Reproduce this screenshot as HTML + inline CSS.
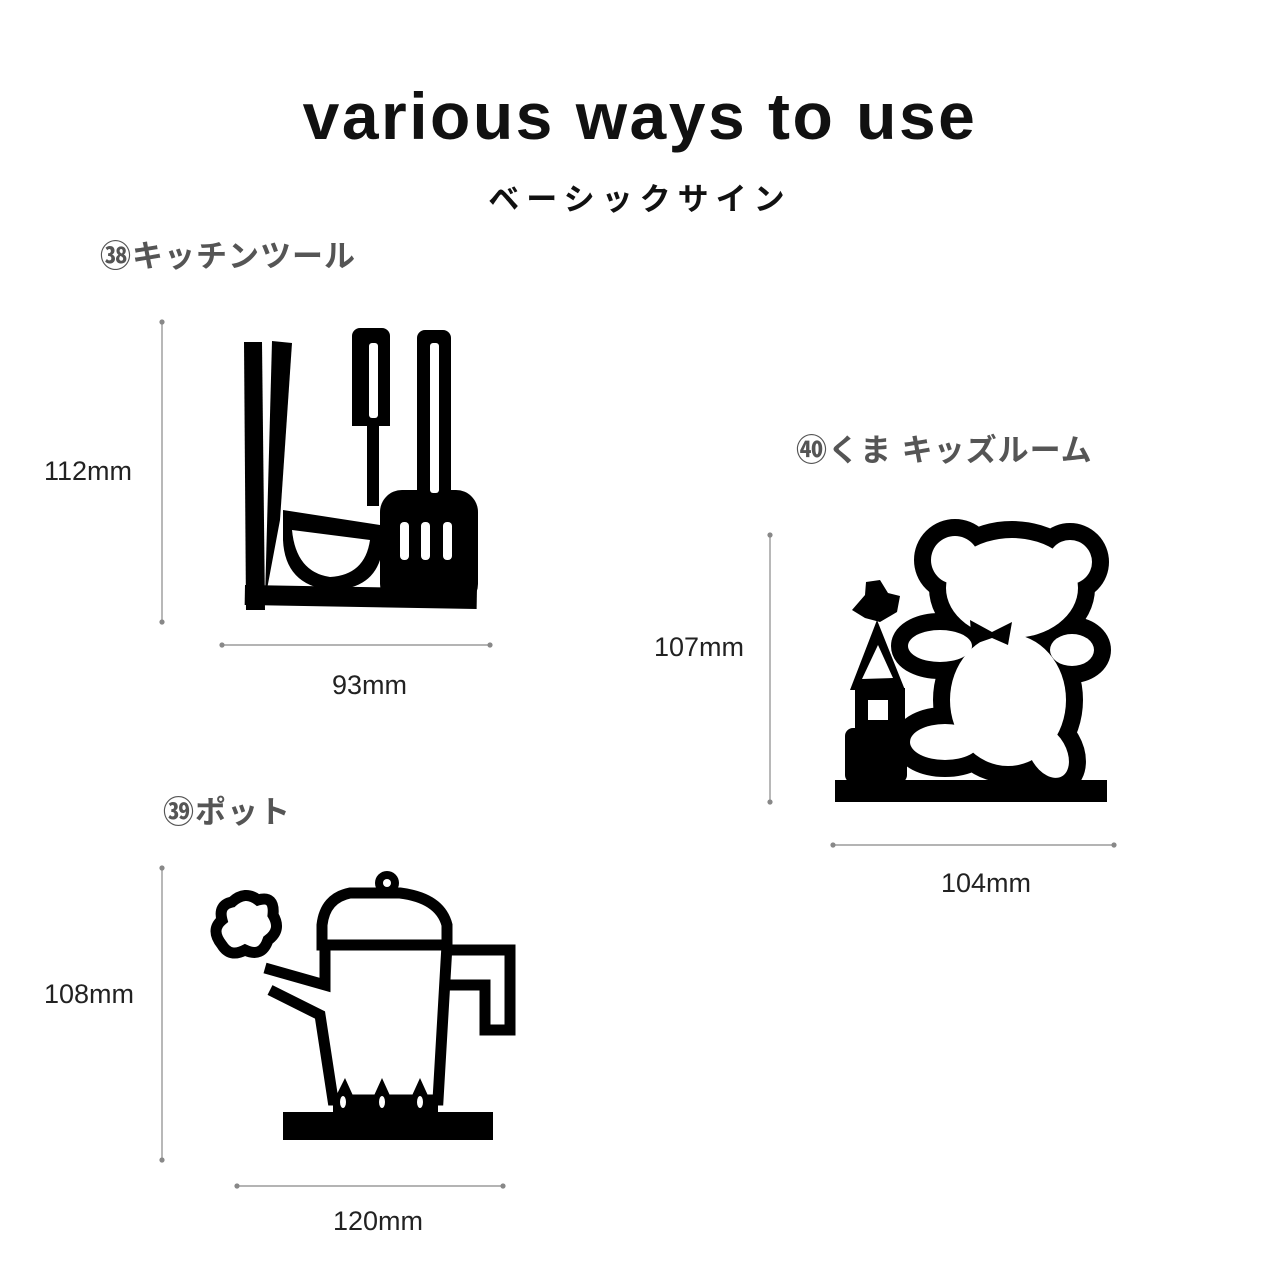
<!DOCTYPE html>
<html><head><meta charset="utf-8"><style>
body{margin:0;width:1280px;height:1280px;background:#fff;overflow:hidden;position:relative;font-family:"Liberation Sans","Noto Sans CJK JP",sans-serif}
.t{position:absolute;white-space:nowrap}
.lab{color:#555;font-weight:bold;font-size:31px;letter-spacing:1px}
.dim{color:#222;font-size:27px}
</style></head><body>
<div class="t" style="left:0;width:1280px;text-align:center;top:78px;font-size:66px;font-weight:bold;letter-spacing:2.5px;color:#111">various ways to use</div>
<div class="t" style="left:0;width:1280px;text-align:center;top:174px;font-size:31px;font-weight:bold;letter-spacing:7px;color:#111">ベーシックサイン</div>
<div class="t lab" style="left:100px;top:231px">㊳キッチンツール</div>
<div class="t lab" style="left:796px;top:425px">㊵くま キッズルーム</div>
<div class="t lab" style="left:163px;top:787px">㊴ポット</div>
<div class="t dim" style="left:44px;top:456px">112mm</div>
<div class="t dim" style="left:332px;top:670px">93mm</div>
<div class="t dim" style="left:654px;top:632px">107mm</div>
<div class="t dim" style="left:941px;top:868px">104mm</div>
<div class="t dim" style="left:44px;top:979px">108mm</div>
<div class="t dim" style="left:333px;top:1206px">120mm</div>
<svg width="1280" height="1280" style="position:absolute;left:0;top:0">
<g stroke="#888" stroke-width="1.2" fill="#888">
<line x1="162" y1="322" x2="162" y2="622"/><circle cx="162" cy="322" r="2"/><circle cx="162" cy="622" r="2"/>
<line x1="222" y1="645" x2="490" y2="645"/><circle cx="222" cy="645" r="2"/><circle cx="490" cy="645" r="2"/>
<line x1="770" y1="535" x2="770" y2="802"/><circle cx="770" cy="535" r="2"/><circle cx="770" cy="802" r="2"/>
<line x1="833" y1="845" x2="1114" y2="845"/><circle cx="833" cy="845" r="2"/><circle cx="1114" cy="845" r="2"/>
<line x1="162" y1="868" x2="162" y2="1160"/><circle cx="162" cy="868" r="2"/><circle cx="162" cy="1160" r="2"/>
<line x1="237" y1="1186" x2="503" y2="1186"/><circle cx="237" cy="1186" r="2"/><circle cx="503" cy="1186" r="2"/>
</g>
<!-- kitchen tools -->
<g fill="#000" stroke="none">
<path d="M244,342 L262,342 L265,610 L246,610 Z"/>
<path d="M272,341 L292,343 L280,520 L265,600 Z"/>
<rect x="245" y="585" width="232" height="20" transform="rotate(1 245 585)"/>
<path d="M360,328 h22 a8,8 0 0 1 8,8 v90 h-11 v80 h-12 v-80 h-15 v-90 a8,8 0 0 1 8,-8 Z"/>
<path d="M283,510 L380,525 L380,560 Q370,590 330,590 Q285,585 283,540 Z"/>
<path d="M425,330 h18 a8,8 0 0 1 8,8 v160 h-34 v-160 a8,8 0 0 1 8,-8 Z"/>
<rect x="380" y="490" width="98" height="116" rx="22"/>
</g>
<g fill="#fff">
<rect x="369" y="343" width="9" height="75" rx="3"/>
<rect x="430" y="343" width="9" height="150" rx="3"/>
<path d="M292,530 L370,540 Q365,575 330,577 Q296,572 292,530 Z"/>
<rect x="400" y="522" width="9" height="38" rx="4"/>
<rect x="421" y="522" width="9" height="38" rx="4"/>
<rect x="443" y="522" width="9" height="38" rx="4"/>
</g>
<!-- bear -->
<g stroke="#000" stroke-width="34" fill="#000">
<ellipse cx="1012" cy="588" rx="66" ry="50"/>
<circle cx="955" cy="560" r="24"/><circle cx="1070" cy="562" r="22"/>
<ellipse cx="1008" cy="700" rx="58" ry="66"/>
<ellipse cx="940" cy="646" rx="32" ry="16"/>
<ellipse cx="1072" cy="650" rx="22" ry="16"/>
<ellipse cx="945" cy="742" rx="35" ry="18"/>
<ellipse cx="1048" cy="752" rx="18" ry="28" transform="rotate(-30 1048 752)"/>
</g>
<g fill="#fff">
<ellipse cx="1012" cy="588" rx="66" ry="50"/>
<circle cx="955" cy="560" r="24"/><circle cx="1070" cy="562" r="22"/>
<ellipse cx="1008" cy="700" rx="58" ry="66"/>
<ellipse cx="940" cy="646" rx="32" ry="16"/>
<ellipse cx="1072" cy="650" rx="22" ry="16"/>
<ellipse cx="945" cy="742" rx="35" ry="18"/>
<ellipse cx="1048" cy="752" rx="18" ry="28" transform="rotate(-30 1048 752)"/>
</g>
<g fill="#000">
<path d="M970,620 L992,632 L1012,622 L1008,645 L992,638 L972,645 Z"/>
<rect x="835" y="780" width="272" height="22"/>
<rect x="845" y="728" width="62" height="55" rx="8"/>
<path d="M865,595 L866,582 L880,580 L888,593 L900,596 L897,612 L880,622 L865,618 L852,610 Z"/>
<path d="M877,620 L905,690 L850,690 Z"/>
<rect x="855" y="688" width="50" height="45"/>
</g>
<g fill="#fff"><path d="M878,645 L893,678 L862,679 Z"/><rect x="868" y="700" width="20" height="20"/></g>
<!-- pot -->
<g stroke="#000" stroke-width="11" fill="none" stroke-linejoin="miter">
<path d="M322,925 L322,945 L447,945 L447,925 Q440,898 400,893 L350,893 Q325,898 322,925 Z"/>
<path d="M325,945 L325,985 L265,968 M270,990 L320,1015 L333,1100 L438,1100 L447,945"/>
<path d="M447,950 L510,950 L510,1030 L485,1030 L485,985 L445,985"/>
<path d="M232,902 Q245,890 258,900 Q275,895 273,915 Q282,930 268,940 Q262,958 245,950 Q230,958 222,945 Q210,930 222,920 Q218,905 232,902 Z"/>
</g>
<g fill="#000">
<circle cx="387" cy="883" r="12"/>
<rect x="283" y="1112" width="210" height="28"/>
<path d="M334,1100 L345,1078 L355,1100 Z M372,1100 L382,1078 L392,1100 Z M410,1100 L420,1078 L430,1100 Z"/>
<rect x="333" y="1098" width="105" height="16"/>
</g>
<g fill="#fff"><circle cx="387" cy="883" r="4"/><ellipse cx="343" cy="1102" rx="3" ry="6"/><ellipse cx="382" cy="1102" rx="3" ry="6"/><ellipse cx="420" cy="1102" rx="3" ry="6"/></g>
</svg>
</body></html>
